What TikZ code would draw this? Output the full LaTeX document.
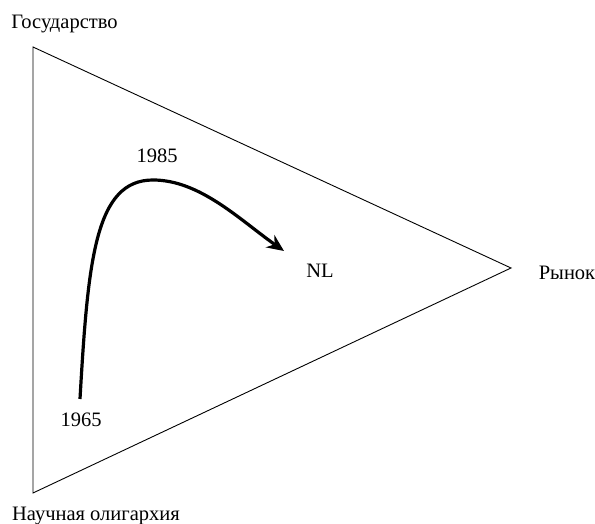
\documentclass[tikz,border=0pt]{standalone}
\usepackage{fontspec}
\setmainfont{Liberation Serif}
\usetikzlibrary{arrows.meta}
\begin{document}
\begin{tikzpicture}[x=1pt,y=1pt,
  lbl/.style={font=\fontsize{20.5}{24}\selectfont, inner sep=0pt},
  edge/.style={line width=0.9pt, line join=miter},
  trend/.style={line width=3.2pt, -{Stealth[length=17pt,width=15pt]}}]
\useasboundingbox (0,0) rectangle (595,524);
\coordinate (G) at (33,477);
\coordinate (N) at (33,31);
\coordinate (R) at (511,256);
\draw[edge] (G) -- (R) -- (N) -- cycle;
\node[lbl] (lg) at (64.5,500) {Государство};
\node[lbl] (lr) at (567,251) {Рынок};
\node[lbl] (ln) at (96,8) {Научная олигархия};
\node[lbl] (l65) at (81,104) {1965};
\node[lbl] (l85) at (157,368) {1985};
\node[lbl] (lnl) at (320,253) {NL};
\coordinate (s) at (80,125);
\coordinate (top) at (153,344);
\coordinate (e) at (284,273);
\draw[trend] (s) .. controls (88,264) and (95,344) .. (top)
  .. controls (200,344) and (240,304) .. (e);
\end{tikzpicture}
\end{document}
